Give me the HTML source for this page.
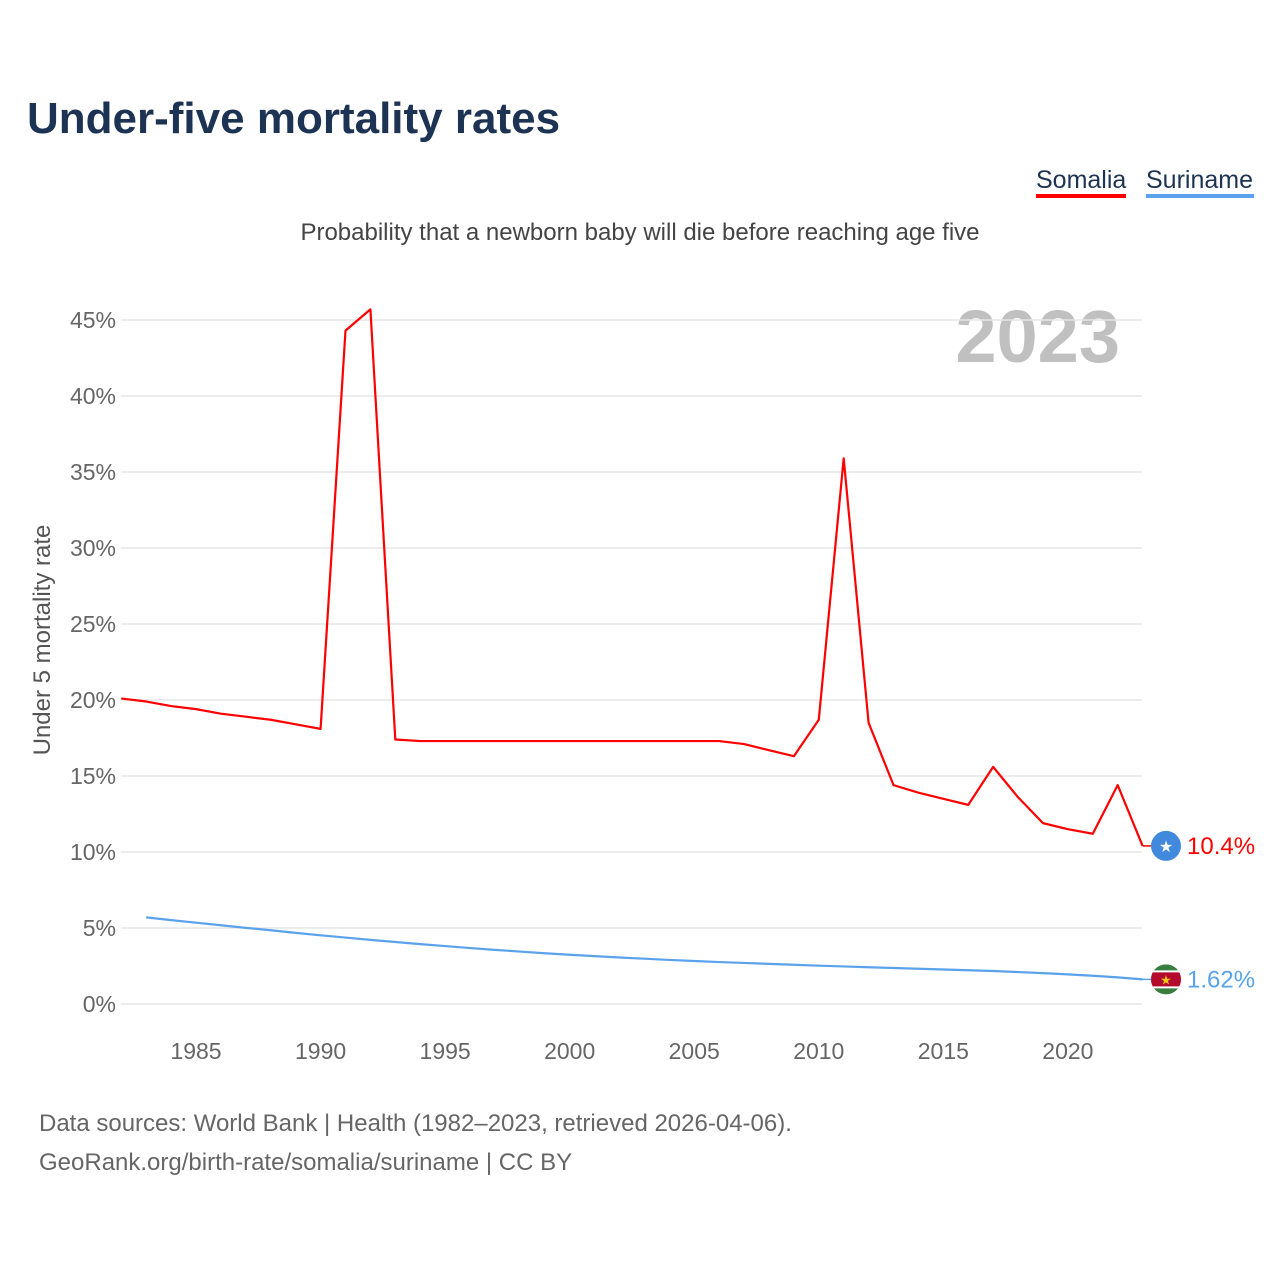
<!DOCTYPE html>
<html><head><meta charset="utf-8"><style>
body{margin:0;background:#fff;font-family:"Liberation Sans",sans-serif}
</style></head><body>
<svg width="1280" height="1280" viewBox="0 0 1280 1280" style="display:block">
<text x="27" y="133" font-size="44" font-weight="bold" fill="#1d3354">Under-five mortality rates</text>
<g><text x="1036" y="188" font-size="25" fill="#1d3354">Somalia</text><rect x="1036" y="194" width="90" height="4" fill="#ff0000"/></g>
<g><text x="1146" y="188" font-size="25" fill="#1d3354">Suriname</text><rect x="1146" y="194" width="108" height="4" fill="#5aa2ec"/></g>
<text x="640" y="240" font-size="24" fill="#444" text-anchor="middle">Probability that a newborn baby will die before reaching age five</text>
<text x="1120" y="362" font-size="74" font-weight="bold" fill="#c0c0c0" text-anchor="end">2023</text>
<text transform="translate(50,640) rotate(-90)" font-size="24" fill="#555" text-anchor="middle">Under 5 mortality rate</text>
<g id="grid"></g><g id="xt"></g><g id="lines"></g>
<text x="39" y="1131" font-size="24" fill="#666">Data sources: World Bank | Health (1982–2023, retrieved 2026-04-06).</text>
<text x="39" y="1170" font-size="24" fill="#666">GeoRank.org/birth-rate/somalia/suriname | CC BY</text>
</svg>
<script>
const yTicks=[0,5,10,15,20,25,30,35,40,45];
const xTicks=[1985,1990,1995,2000,2005,2010,2015,2020];
const somaliaYears=[1982,1983,1984,1985,1986,1987,1988,1989,1990,1991,1992,1993,1994,1995,1996,1997,1998,1999,2000,2001,2002,2003,2004,2005,2006,2007,2008,2009,2010,2011,2012,2013,2014,2015,2016,2017,2018,2019,2020,2021,2022,2023];
const somalia=[20.1,19.9,19.6,19.4,19.1,18.9,18.7,18.4,18.1,44.3,45.7,17.4,17.3,17.3,17.3,17.3,17.3,17.3,17.3,17.3,17.3,17.3,17.3,17.3,17.3,17.1,16.7,16.3,18.7,35.9,18.5,14.4,13.9,13.5,13.1,15.6,13.6,11.9,11.5,11.2,14.4,10.4];
const surinameYears=[1983,1984,1985,1986,1987,1988,1989,1990,1991,1992,1993,1994,1995,1996,1997,1998,1999,2000,2001,2002,2003,2004,2005,2006,2007,2008,2009,2010,2011,2012,2013,2014,2015,2016,2017,2018,2019,2020,2021,2022,2023];
const suriname=[5.7,5.52,5.35,5.18,5.01,4.85,4.68,4.52,4.37,4.22,4.08,3.94,3.81,3.68,3.56,3.45,3.34,3.24,3.15,3.06,2.98,2.9,2.83,2.76,2.7,2.64,2.58,2.52,2.47,2.42,2.37,2.32,2.27,2.22,2.17,2.1,2.03,1.95,1.86,1.75,1.62];
const X=y=>121.3+(y-1982)*24.91, Y=v=>1004-v*15.2;
const NS='http://www.w3.org/2000/svg';
function mk(t,a,p){const e=document.createElementNS(NS,t);for(const k in a)e.setAttribute(k,a[k]);p.appendChild(e);return e;}
const g=document.getElementById('grid');
yTicks.forEach(v=>{const l=mk('line',{x1:121,x2:1142,y1:Y(v),y2:Y(v),stroke:'#e6e6e6','stroke-width':1.5},g);


const t=mk('text',{x:116,y:Y(v)+8,'font-size':23,fill:'#666','text-anchor':'end'},g);t.textContent=v+'%';

});
const xt=document.getElementById('xt');
xTicks.forEach(v=>{const t=mk('text',{x:X(v),y:1059,'font-size':23,fill:'#666','text-anchor':'middle'},xt);t.textContent=v;

});
const L=document.getElementById('lines');
function series(yrs,vals,col,name){const p=mk('polyline',{points:yrs.map((y,i)=>X(y)+','+Y(vals[i])).join(' '),fill:'none',stroke:col,'stroke-width':2.2,'stroke-linejoin':'round'},L);


const ly=Y(vals[vals.length-1]),lx=X(yrs[yrs.length-1]);
mk('line',{x1:lx,x2:lx+10,y1:ly,y2:ly,stroke:col,'stroke-width':1.5},L);
const t=mk('text',{x:1187,y:ly+8,'font-size':24,fill:col},L);t.textContent=(name==='somalia'?vals[vals.length-1].toFixed(1):vals[vals.length-1].toFixed(2))+'%';


return ly;}
const sy=series(somaliaYears,somalia,'#ff0000','somalia');
const ry=series(surinameYears,suriname,'#5aa2ec','suriname');
const f1=mk('g',{},L);


mk('circle',{cx:1166,cy:sy,r:15,fill:'#4189dd'},f1);
const st=mk('text',{x:1166,y:sy+6,'font-size':16,fill:'#fff','text-anchor':'middle'},f1);st.textContent='★';
const f2=mk('g',{},L);


mk('clipPath',{id:'cp'},f2);mk('circle',{cx:1166,cy:ry,r:15},document.getElementById('cp'));
const fg=mk('g',{'clip-path':'url(#cp)'},f2);
mk('rect',{x:1150,y:ry-15,width:32,height:30,fill:'#377e3f'},fg);
mk('rect',{x:1150,y:ry-9,width:32,height:18,fill:'#fff'},fg);
mk('rect',{x:1150,y:ry-7,width:32,height:14,fill:'#b40a2d'},fg);
const s2=mk('text',{x:1166,y:ry+5,'font-size':13,fill:'#ecc81d','text-anchor':'middle'},f2);s2.textContent='★';
</script>
</body></html>
